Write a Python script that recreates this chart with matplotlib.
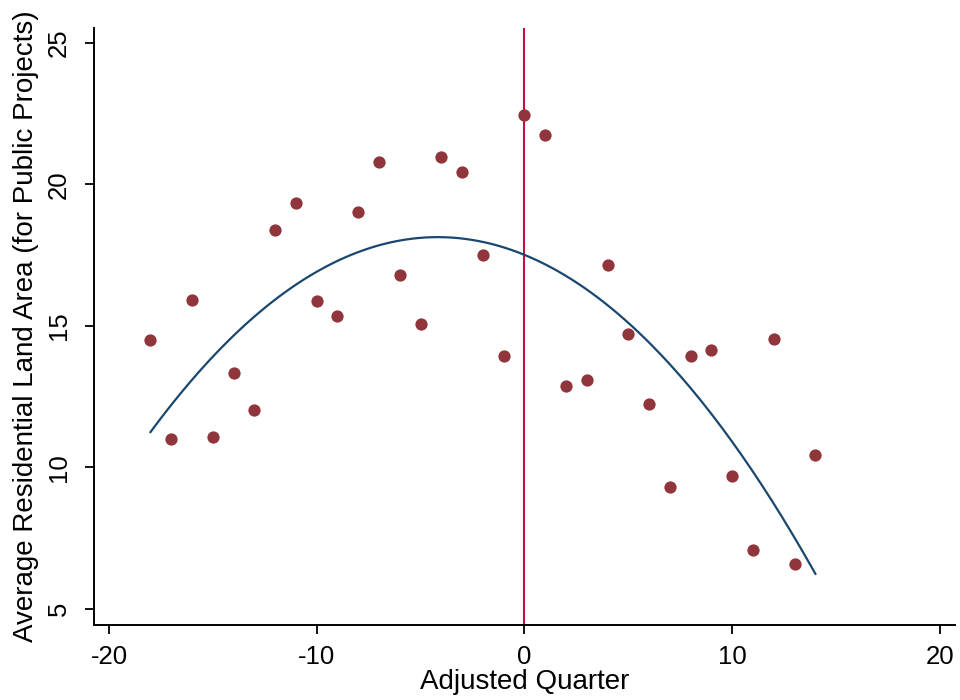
import numpy as np
import matplotlib.pyplot as plt

plt.rcParams['font.family'] = ['Liberation Sans', 'DejaVu Sans']
plt.rcParams['axes.unicode_minus'] = False

# Data: average residential land area by adjusted quarter
quarter = [-18, -17, -16, -15, -14, -13, -12, -11, -10, -9, -8, -7, -6, -5, -4, -3, -2,
           -1, 0, 1, 2, 3, 4, 5, 6, 7, 8, 9, 10, 11, 12, 13, 14]
land_area = [14.51, 11.00, 15.92, 11.08, 13.34, 12.03, 18.39, 19.35, 15.88, 15.35, 19.03,
             20.80, 16.80, 15.07, 20.97, 20.44, 17.51, 13.94, 22.46, 21.75, 12.88, 13.09,
             17.16, 14.72, 12.24, 9.31, 13.94, 14.15, 9.70, 7.08, 14.54, 6.59, 10.44]
# quadratic fit line
fit_x = [-18, -4, 0, 14]
fit_y = [11.25, 18.14, 17.51, 6.24]
xticks = [-20, -10, 0, 10, 20]
yticks = [5, 10, 15, 20, 25]

coef = np.polyfit(fit_x, fit_y, 2)
xs = np.linspace(min(fit_x), max(fit_x), 200)
ys = np.polyval(coef, xs)

fig = plt.figure(figsize=(9.6, 7.0), dpi=100)
ax = fig.add_axes([0.0979, 0.1071, 0.8969, 0.8529])

ax.axvline(0, color='#C4103F', lw=1.5, zorder=1)
ax.scatter(quarter, land_area, s=78, color='#90353B', zorder=3, linewidths=0)
ax.plot(xs, ys, color='#1A476F', lw=1.6, zorder=2)

ax.set_xlim(-20.72, 20.72)
ax.set_ylim(4.43, 25.53)
ax.set_xticks(xticks)
ax.set_yticks(yticks)
ax.set_yticklabels([str(v) for v in yticks], rotation=90, va='center')

for side in ['top', 'right']:
    ax.spines[side].set_visible(False)
for side in ['left', 'bottom']:
    ax.spines[side].set_linewidth(1.4)

ax.tick_params(axis='both', direction='out', length=6.5, width=1.3, labelsize=18.5)
ax.tick_params(axis='x', pad=8)
ax.tick_params(axis='y', pad=10)
ax.set_xlabel('Adjusted Quarter', fontsize=20, labelpad=0)
ax.set_ylabel('Average Residential Land Area (for Public Projects)', fontsize=20, labelpad=6)

fig.savefig('out.png', dpi=100)
